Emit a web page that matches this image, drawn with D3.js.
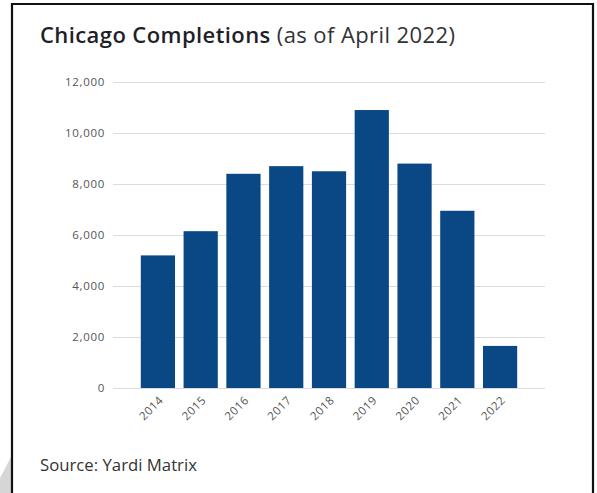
<!DOCTYPE html>
<html>
<head>
<meta charset="utf-8">
<script src="https://cdn.jsdelivr.net/npm/d3@7"></script>
<style>
  html, body { margin: 0; padding: 0; background: #fff; }
  svg { display: block; }
</style>
</head>
<body>
<script>
// Annual apartment completions, Chicago
const years = ["2014", "2015", "2016", "2017", "2018", "2019", "2020", "2021", "2022"];
const completions = [5200, 6150, 8400, 8700, 8500, 10900, 8800, 6950, 1650];
const yTicks = [0, 2000, 4000, 6000, 8000, 10000, 12000];

const W = 597, H = 493;
const FONT = "'Open Sans', 'DejaVu Sans', sans-serif";
const svg = d3.select("body").append("svg").attr("width", W).attr("height", H);

// scale a text node's font so its rendered width hits the wanted width
function fitWidth(sel, width) {
  const node = sel.node();
  const fs = parseFloat(sel.attr("font-size"));
  const len = node.getComputedTextLength();
  sel.attr("font-size", (fs * width / len).toFixed(2));
}

// page corner shadow and frame
svg.append("polygon")
  .attr("points", "0,493 0,478 11,457 11,493")
  .attr("fill", "#d6d6d6");
svg.append("path")
  .attr("d", "M12,493 V4 H593 V493")
  .attr("fill", "none").attr("stroke", "#111").attr("stroke-width", 2.2);

// title
const title = svg.append("text")
  .attr("x", 40).attr("y", 43)
  .attr("font-family", FONT)
  .attr("letter-spacing", 0.4)
  .attr("font-size", 19).attr("fill", "#1f1f2a");
title.append("tspan").attr("font-weight", 600).text("Chicago Completions");
title.append("tspan").attr("font-weight", 400).attr("fill", "#333").text(" (as of April 2022)");
fitWidth(title, 418);

const x = d3.scaleBand().domain(years).range([113, 545]).paddingInner(0.2).paddingOuter(0.65);
const y = d3.scaleLinear().domain([0, 12000]).range([388, 82]);

// gridlines and value labels
const yAxis = svg.append("g")
  .attr("transform", "translate(113,0)")
  .call(d3.axisLeft(y).tickValues(yTicks).tickSize(-432).tickPadding(8)
    .tickFormat(d3.format(",")));
yAxis.select(".domain").remove();
yAxis.selectAll(".tick line").attr("stroke", "#dcdcdc").attr("stroke-width", 1.2);
yAxis.selectAll(".tick text")
  .attr("font-family", FONT)
  .attr("letter-spacing", 0.7)
  .attr("font-size", 11.5).attr("fill", "#555");

// bars
svg.append("g").selectAll("rect")
  .data(years.map((yr, i) => ({ yr, v: completions[i] })))
  .join("rect")
  .attr("x", d => x(d.yr))
  .attr("width", x.bandwidth())
  .attr("y", d => y(d.v))
  .attr("height", d => y(0) - y(d.v))
  .attr("fill", "#0a4885");

// year labels
const xAxis = svg.append("g")
  .attr("transform", "translate(0,388)")
  .call(d3.axisBottom(x).tickSize(0).tickPadding(0));
xAxis.select(".domain").remove();
xAxis.selectAll(".tick text")
  .attr("font-family", FONT)
  .attr("letter-spacing", 0.5)
  .attr("font-size", 11.5).attr("fill", "#555")
  .attr("text-anchor", "end")
  .attr("dy", null)
  .attr("transform", "translate(6,13) rotate(-45)");

// source note
const src = svg.append("text")
  .attr("x", 40).attr("y", 471)
  .attr("font-family", FONT)
  .attr("font-size", 15).attr("fill", "#333")
  .text("Source: Yardi Matrix");
fitWidth(src, 157);
</script>
</body>
</html>
